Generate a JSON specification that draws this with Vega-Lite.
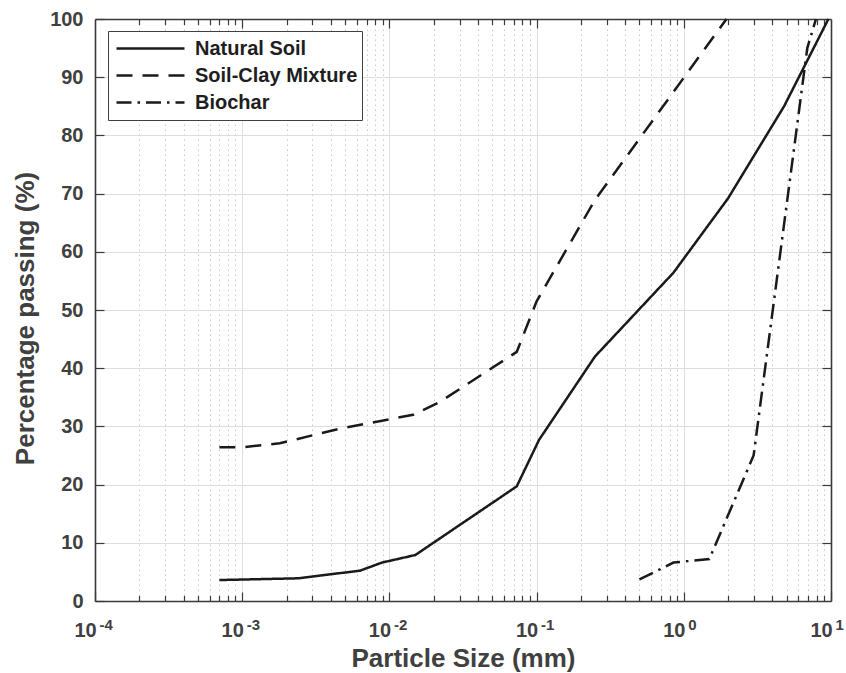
{
  "$schema": "https://vega.github.io/schema/vega-lite/v6.json",
  "width": 736,
  "height": 582,
  "autosize": {"type": "none"},
  "padding": {"left": 95, "top": 19, "right": 15, "bottom": 72},
  "background": "white",
  "config": {
    "view": {"stroke": null},
    "font": "Liberation Sans",
    "axis": {
      "domainColor": "#3a3a3a", "domainWidth": 1.6,
      "tickColor": "#3a3a3a", "tickWidth": 1.2,
      "gridColor": "#dedede", "gridWidth": 1,
      "labelFont": "Liberation Sans", "labelFontSize": 20, "labelFontWeight": "bold", "labelColor": "#404040",
      "titleFont": "Liberation Sans", "titleFontSize": 26, "titleFontWeight": "bold", "titleColor": "#404040",
      "labelFlush": false, "labelOverlap": false
    }
  },
  "data": {"values": [
    {"series": "Natural Soil", "size": 0.0007, "pct": 3.6},
    {"series": "Natural Soil", "size": 0.0024, "pct": 3.9},
    {"series": "Natural Soil", "size": 0.004, "pct": 4.6},
    {"series": "Natural Soil", "size": 0.0063, "pct": 5.2},
    {"series": "Natural Soil", "size": 0.0089, "pct": 6.6},
    {"series": "Natural Soil", "size": 0.015, "pct": 7.9},
    {"series": "Natural Soil", "size": 0.0733, "pct": 19.7},
    {"series": "Natural Soil", "size": 0.104, "pct": 27.7},
    {"series": "Natural Soil", "size": 0.249, "pct": 42.0},
    {"series": "Natural Soil", "size": 0.85, "pct": 56.4},
    {"series": "Natural Soil", "size": 2.0, "pct": 69.2},
    {"series": "Natural Soil", "size": 4.8, "pct": 85.0},
    {"series": "Natural Soil", "size": 9.6, "pct": 100},
    {"series": "Soil-Clay Mixture", "size": 0.0007, "pct": 26.4},
    {"series": "Soil-Clay Mixture", "size": 0.001, "pct": 26.4},
    {"series": "Soil-Clay Mixture", "size": 0.0018, "pct": 27.1},
    {"series": "Soil-Clay Mixture", "size": 0.0046, "pct": 29.6},
    {"series": "Soil-Clay Mixture", "size": 0.0145, "pct": 32.0},
    {"series": "Soil-Clay Mixture", "size": 0.022, "pct": 34.2},
    {"series": "Soil-Clay Mixture", "size": 0.0733, "pct": 42.8},
    {"series": "Soil-Clay Mixture", "size": 0.1, "pct": 51.5},
    {"series": "Soil-Clay Mixture", "size": 0.249, "pct": 68.9},
    {"series": "Soil-Clay Mixture", "size": 1.95, "pct": 100},
    {"series": "Biochar", "size": 0.5, "pct": 3.7},
    {"series": "Biochar", "size": 0.85, "pct": 6.6},
    {"series": "Biochar", "size": 1.49, "pct": 7.2},
    {"series": "Biochar", "size": 2.98, "pct": 25.0},
    {"series": "Biochar", "size": 6.9, "pct": 95.0},
    {"series": "Biochar", "size": 7.9, "pct": 100}
  ]},
  "resolve": {"axis": {"x": "independent", "y": "independent"}},
  "layer": [
    {
      "mark": {"type": "line", "color": "#1a1a1a", "strokeWidth": 2.5},
      "encoding": {
        "x": {
          "field": "size", "type": "quantitative",
          "scale": {"type": "log", "domain": [0.0001, 10], "nice": false},
          "axis": {
            "orient": "bottom",
            "values": [0.0001, 0.001, 0.01, 0.1, 1, 10],
            "labelExpr": "'10'",
            "labelOffset": -10,
            "grid": false, "tickSize": -9, "labelPadding": 28.5,
            "title": "Particle Size (mm)", "titlePadding": 5
          }
        },
        "y": {
          "field": "pct", "type": "quantitative",
          "scale": {"domain": [0, 100], "nice": false, "zero": false},
          "axis": {
            "orient": "left",
            "values": [0, 10, 20, 30, 40, 50, 60, 70, 80, 90, 100],
            "grid": false, "tickSize": -9, "labelPadding": 21,
            "title": "Percentage passing (%)", "titlePadding": 11, "titleY": 299
          }
        },
        "strokeDash": {
          "field": "series", "type": "nominal",
          "scale": {"domain": ["Natural Soil", "Soil-Clay Mixture", "Biochar"], "range": [[1, 0], [16, 10], [15, 6, 2.5, 6]]},
          "legend": {
            "orient": "none", "legendX": 13, "legendY": 12, "title": null,
            "symbolType": "stroke", "symbolSize": 4624, "symbolStrokeWidth": 2.5, "symbolStrokeColor": "#1a1a1a",
            "labelFont": "Liberation Sans", "labelFontSize": 20, "labelFontWeight": "bold", "labelColor": "#1e1e1e",
            "strokeColor": "#404040", "fillColor": "white", "padding": 4, "clipHeight": 27, "rowPadding": 0,
            "symbolOffset": 3, "labelOffset": 9, "labelLimit": 400
          }
        }
      }
    },
    {
      "mark": {"type": "point", "opacity": 0},
      "encoding": {
        "x": {
          "field": "size", "type": "quantitative",
          "scale": {"type": "log", "domain": [0.0001, 10], "nice": false},
          "axis": {
            "orient": "bottom",
            "values": [0.0002, 0.0003, 0.0004, 0.0005, 0.0006, 0.0007, 0.0008, 0.0009, 0.002, 0.003, 0.004, 0.005, 0.006, 0.007, 0.008, 0.009, 0.02, 0.03, 0.04, 0.05, 0.06, 0.07, 0.08, 0.09, 0.2, 0.3, 0.4, 0.5, 0.6, 0.7, 0.8, 0.9, 2, 3, 4, 5, 6, 7, 8, 9],
            "labels": false, "domain": false, "tickSize": -5.5, "title": null,
            "grid": true, "gridColor": "#c8c8c8", "gridDash": [1.5, 3.5], "gridWidth": 1
          }
        },
        "y": {
          "field": "pct", "type": "quantitative",
          "scale": {"domain": [0, 100], "nice": false, "zero": false},
          "axis": {
            "orient": "right",
            "values": [10, 20, 30, 40, 50, 60, 70, 80, 90],
            "labels": false, "domain": true, "tickSize": -9, "title": null, "grid": true
          }
        }
      }
    },
    {
      "mark": {"type": "point", "opacity": 0},
      "encoding": {
        "x": {
          "field": "size", "type": "quantitative",
          "scale": {"type": "log", "domain": [0.0001, 10], "nice": false},
          "axis": {
            "orient": "top",
            "values": [0.001, 0.01, 0.1, 1],
            "labels": false, "domain": true, "tickSize": -9, "title": null, "grid": true
          }
        },
        "y": {"field": "pct", "type": "quantitative", "scale": {"domain": [0, 100], "nice": false, "zero": false}, "axis": null}
      }
    },
    {
      "mark": {"type": "point", "opacity": 0},
      "encoding": {
        "x": {
          "field": "size", "type": "quantitative",
          "scale": {"type": "log", "domain": [0.0001, 10], "nice": false},
          "axis": {
            "orient": "top",
            "values": [0.0002, 0.0003, 0.0004, 0.0005, 0.0006, 0.0007, 0.0008, 0.0009, 0.002, 0.003, 0.004, 0.005, 0.006, 0.007, 0.008, 0.009, 0.02, 0.03, 0.04, 0.05, 0.06, 0.07, 0.08, 0.09, 0.2, 0.3, 0.4, 0.5, 0.6, 0.7, 0.8, 0.9, 2, 3, 4, 5, 6, 7, 8, 9],
            "labels": false, "domain": false, "tickSize": -5.5, "title": null, "grid": false
          }
        },
        "y": {"field": "pct", "type": "quantitative", "scale": {"domain": [0, 100], "nice": false, "zero": false}, "axis": null}
      }
    },
    {
      "mark": {"type": "point", "opacity": 0},
      "encoding": {
        "x": {
          "field": "size", "type": "quantitative",
          "scale": {"type": "log", "domain": [0.0001, 10], "nice": false},
          "axis": {
            "orient": "bottom",
            "values": [0.0001, 0.001, 0.01, 0.1, 1, 10],
            "labelExpr": "datum.value < 0.0005 ? '-4' : datum.value < 0.005 ? '-3' : datum.value < 0.05 ? '-2' : datum.value < 0.5 ? '-1' : datum.value < 5 ? '0' : '1'",
            "labelFontSize": 15, "labelAlign": "left", "labelOffset": 4, "labelBaseline": "top",
            "ticks": false, "tickSize": 0, "labelPadding": 16,
            "domain": false, "grid": false, "title": null
          }
        },
        "y": {"field": "pct", "type": "quantitative", "scale": {"domain": [0, 100], "nice": false, "zero": false}, "axis": null}
      }
    }
  ]
}
